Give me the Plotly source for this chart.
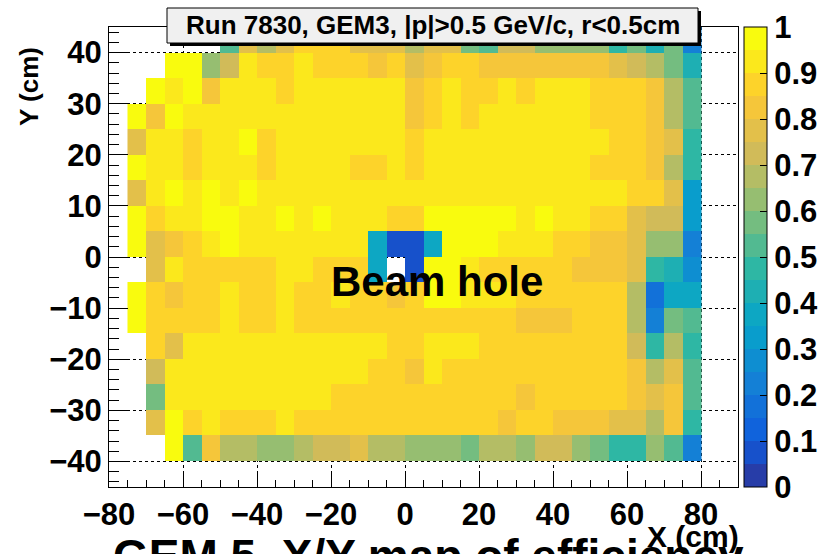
import plotly.graph_objects as go

# ---------------- data ----------------
x_centers = [-72.5, -67.5, -62.5, -57.5, -52.5, -47.5, -42.5, -37.5, -32.5, -27.5,
             -22.5, -17.5, -12.5, -7.5, -2.5, 2.5, 7.5, 12.5, 17.5, 22.5,
             27.5, 32.5, 37.5, 42.5, 47.5, 52.5, 57.5, 62.5, 67.5, 72.5, 77.5]
y_centers = [-37.5, -32.5, -27.5, -22.5, -17.5, -12.5, -7.5, -2.5, 2.5,
             7.5, 12.5, 17.5, 22.5, 27.5, 32.5, 37.5, 42.5]

N = None
eff_y_p42_5 = [N, N, N, N, N, 0.52, 0.75, 0.67, 0.75, 0.87, 0.85, 0.85, 0.75, 0.75, 0.75, 0.67,
               0.75, 0.75, 0.57, 0.52, 0.70, 0.72, 0.62, 0.62, 0.62, 0.62, 0.47, 0.57, 0.42, 0.55, 0.22]
eff_y_p37_5 = [N, N, 0.97, 0.97, 0.62, 0.74, 0.92, 0.87, 0.87, 0.92, 0.87, 0.87, 0.87, 0.82, 0.87, 0.78,
               0.82, 0.87, 0.85, 0.82, 0.82, 0.82, 0.82, 0.82, 0.82, 0.82, 0.78, 0.73, 0.68, 0.58, 0.42]
eff_y_p32_5 = [N, 0.97, 0.93, 0.97, 0.82, 0.93, 0.93, 0.93, 0.87, 0.93, 0.93, 0.93, 0.93, 0.93, 0.93, 0.84,
               0.87, 0.93, 0.87, 0.87, 0.93, 0.87, 0.92, 0.92, 0.92, 0.87, 0.87, 0.85, 0.80, 0.68, 0.50]
eff_y_p27_5 = [0.97, 0.82, 0.97, 0.93, 0.93, 0.93, 0.93, 0.93, 0.93, 0.93, 0.93, 0.93, 0.93, 0.93, 0.93, 0.82,
               0.87, 0.93, 0.87, 0.93, 0.93, 0.93, 0.93, 0.93, 0.93, 0.87, 0.87, 0.87, 0.80, 0.68, 0.50]
eff_y_p22_5 = [0.76, 0.93, 0.93, 0.87, 0.93, 0.93, 0.97, 0.87, 0.93, 0.93, 0.93, 0.93, 0.93, 0.93, 0.93, 0.87,
               0.93, 0.93, 0.93, 0.93, 0.93, 0.93, 0.93, 0.93, 0.93, 0.93, 0.87, 0.85, 0.80, 0.77, 0.45]
eff_y_p17_5 = [0.97, 0.93, 0.93, 0.87, 0.93, 0.93, 0.93, 0.87, 0.93, 0.93, 0.93, 0.93, 0.87, 0.87, 0.93, 0.87,
               0.93, 0.93, 0.93, 0.93, 0.93, 0.93, 0.93, 0.93, 0.93, 0.87, 0.87, 0.85, 0.80, 0.68, 0.45]
eff_y_p12_5 = [0.76, 0.93, 0.97, 0.93, 0.97, 0.93, 0.97, 0.93, 0.93, 0.93, 0.93, 0.93, 0.93, 0.93, 0.93, 0.93,
               0.93, 0.93, 0.93, 0.93, 0.93, 0.93, 0.93, 0.93, 0.93, 0.93, 0.93, 0.87, 0.85, 0.75, 0.33]
eff_y_p7_5 = [0.97, 0.87, 0.93, 0.93, 0.97, 0.97, 0.93, 0.93, 0.97, 0.93, 0.97, 0.93, 0.93, 0.93, 0.87, 0.87,
              0.97, 0.97, 0.97, 0.97, 0.97, 0.93, 0.97, 0.93, 0.93, 0.87, 0.85, 0.78, 0.73, 0.73, 0.33]
eff_y_p2_5 = [0.97, 0.77, 0.82, 0.87, 0.93, 0.97, 0.93, 0.93, 0.93, 0.93, 0.93, 0.93, 0.93, 0.37, 0.07, 0.07,
              0.37, 0.97, 0.97, 0.97, 0.93, 0.93, 0.93, 0.87, 0.87, 0.82, 0.80, 0.78, 0.62, 0.62, 0.20]
eff_y_m2_5 = [N, 0.77, 0.93, 0.87, 0.87, 0.87, 0.87, 0.87, 0.93, 0.93, 0.87, 0.87, 0.87, 0.35, N, 0.07,
              0.97, 0.97, 0.93, 0.87, 0.87, 0.87, 0.87, 0.87, 0.82, 0.80, 0.80, 0.75, 0.47, 0.42, 0.28]
eff_y_m7_5 = [0.97, 0.87, 0.82, 0.87, 0.87, 0.93, 0.87, 0.87, 0.93, 0.87, 0.87, 0.93, 0.87, 0.87, 0.80, 0.87,
              0.97, 0.97, 0.93, 0.93, 0.93, 0.87, 0.87, 0.87, 0.87, 0.85, 0.85, 0.68, 0.18, 0.38, 0.35]
eff_y_m12_5 = [0.97, 0.87, 0.87, 0.87, 0.87, 0.93, 0.87, 0.87, 0.93, 0.87, 0.87, 0.87, 0.87, 0.87, 0.87, 0.87,
               0.87, 0.87, 0.87, 0.87, 0.87, 0.84, 0.84, 0.80, 0.87, 0.87, 0.85, 0.68, 0.20, 0.58, 0.53]
eff_y_m17_5 = [N, 0.88, 0.76, 0.92, 0.92, 0.92, 0.92, 0.92, 0.92, 0.92, 0.92, 0.92, 0.92, 0.92, 0.87, 0.87,
               0.92, 0.92, 0.92, 0.87, 0.87, 0.87, 0.87, 0.87, 0.87, 0.87, 0.85, 0.73, 0.48, 0.68, 0.48]
eff_y_m22_5 = [N, 0.73, 0.92, 0.92, 0.92, 0.92, 0.92, 0.92, 0.92, 0.92, 0.92, 0.92, 0.92, 0.87, 0.87, 0.84,
               0.92, 0.87, 0.87, 0.87, 0.87, 0.87, 0.87, 0.87, 0.87, 0.87, 0.85, 0.83, 0.68, 0.75, 0.53]
eff_y_m27_5 = [N, 0.57, 0.92, 0.92, 0.92, 0.92, 0.92, 0.92, 0.92, 0.92, 0.92, 0.88, 0.87, 0.87, 0.87, 0.87,
               0.87, 0.87, 0.87, 0.87, 0.87, 0.83, 0.87, 0.87, 0.87, 0.87, 0.85, 0.80, 0.77, 0.80, 0.53]
eff_y_m32_5 = [N, 0.78, 0.97, 0.87, 0.93, 0.87, 0.87, 0.87, 0.92, 0.87, 0.87, 0.86, 0.86, 0.86, 0.86, 0.86,
               0.86, 0.86, 0.86, 0.86, 0.83, 0.85, 0.85, 0.83, 0.82, 0.80, 0.77, 0.75, 0.68, 0.82, 0.47]
eff_y_m37_5 = [N, N, 0.97, 0.52, 0.82, 0.68, 0.68, 0.62, 0.62, 0.68, 0.74, 0.70, 0.76, 0.68, 0.68, 0.62,
               0.62, 0.62, 0.58, 0.67, 0.67, 0.62, 0.70, 0.73, 0.62, 0.58, 0.48, 0.47, 0.60, 0.53, 0.22]

z_rows = [eff_y_m37_5, eff_y_m32_5, eff_y_m27_5, eff_y_m22_5, eff_y_m17_5, eff_y_m12_5,
          eff_y_m7_5, eff_y_m2_5, eff_y_p2_5, eff_y_p7_5, eff_y_p12_5, eff_y_p17_5,
          eff_y_p22_5, eff_y_p27_5, eff_y_p32_5, eff_y_p37_5, eff_y_p42_5]

cbar_ticks = [0, 0.1, 0.2, 0.3, 0.4, 0.5, 0.6, 0.7, 0.8, 0.9, 1]
cbar_labels = ["0", "0.1", "0.2", "0.3", "0.4", "0.5", "0.6", "0.7", "0.8", "0.9", "1"]

title_text = "Run 7830, GEM3, |p|&gt;0.5 GeV/c, r&lt;0.5cm"

# ---------------- ROOT kBird palette, 20 discrete contours ----------------
stops = [0.0, 0.125, 0.25, 0.375, 0.5, 0.625, 0.75, 0.875, 1.0]
red = [0.2082, 0.0592, 0.0780, 0.0232, 0.1802, 0.5301, 0.8186, 0.9956, 0.9764]
green = [0.1664, 0.3599, 0.5041, 0.6419, 0.7178, 0.7492, 0.7328, 0.7862, 0.9832]
blue = [0.5293, 0.8684, 0.8385, 0.7914, 0.6425, 0.4662, 0.3499, 0.1968, 0.0539]


def bird(p):
    p = min(max(p, 0.0), 1.0)
    for k in range(len(stops) - 1):
        if p <= stops[k + 1]:
            t = (p - stops[k]) / (stops[k + 1] - stops[k])
            r = red[k] + t * (red[k + 1] - red[k])
            g = green[k] + t * (green[k + 1] - green[k])
            b = blue[k] + t * (blue[k + 1] - blue[k])
            return "rgb(%d,%d,%d)" % (round(r * 255), round(g * 255), round(b * 255))
    return "rgb(249,251,14)"


ncont = 20
colorscale = []
for i in range(ncont):
    c = bird(int((i + 0.99) * 255 / ncont) / 254.0)
    colorscale.append([i / ncont, c])
    colorscale.append([(i + 1) / ncont, c])

FONT = "Liberation Sans, Arial, Helvetica, sans-serif"
TICKSIZE = 31

W, H = 823, 554
L, R, T, B = 109, 85, 27, 67
pw, ph = W - L - R, H - T - B


def px(xp):
    return (xp - L) / pw


def py(yp):
    return (H - B - yp) / ph


fig = go.Figure()
fig.add_trace(go.Heatmap(
    x=x_centers, y=y_centers, z=z_rows,
    zmin=0, zmax=1, colorscale=colorscale,
    hoverongaps=False,
    colorbar=dict(
        x=px(744), xanchor="left", xpad=0, ypad=0,
        y=0.5, yanchor="middle", len=1, lenmode="fraction",
        thickness=23, outlinecolor="black", outlinewidth=1,
        tickmode="array", tickvals=cbar_ticks, ticktext=cbar_labels,
        ticks="inside", ticklen=7, tickcolor="black", tickwidth=1,
        tickfont=dict(family=FONT, size=TICKSIZE, color="black", weight="bold"),
    ),
))

axis_common = dict(
    showline=True, linecolor="black", linewidth=1, mirror=True,
    showgrid=True, gridcolor="black", griddash="dot", gridwidth=1,
    ticks="inside", tickcolor="black", tickwidth=1,
    zeroline=False,
    tickfont=dict(family=FONT, size=TICKSIZE, color="black", weight="bold"),
)

fig.update_xaxes(range=[-80, 90], tick0=-80, dtick=20, ticklen=14,
                 minor=dict(dtick=5, tick0=-80, ticklen=7, ticks="inside", tickcolor="black", showgrid=False),
                 **axis_common)
fig.update_yaxes(range=[-45, 45], tick0=-40, dtick=10, ticklen=19,
                 minor=dict(dtick=2, tick0=-44, ticklen=10, ticks="inside", tickcolor="black", showgrid=False),
                 **axis_common)

# title box with shadow
fig.add_shape(type="rect", xref="paper", yref="paper",
              x0=px(170), x1=px(701), y0=py(46), y1=py(11),
              fillcolor="black", line=dict(width=0), layer="above")
fig.add_shape(type="rect", xref="paper", yref="paper",
              x0=px(167), x1=px(698), y0=py(43), y1=py(8),
              fillcolor="#f0f0f0", line=dict(color="black", width=1), layer="above")

fig.add_annotation(text=title_text, xref="paper", yref="paper",
                   x=px(433), y=py(25.5), xanchor="center", yanchor="middle",
                   showarrow=False,
                   font=dict(family=FONT, size=26, color="black", weight="bold"))

fig.add_annotation(text="Beam hole", xref="paper", yref="paper",
                   x=px(437), y=py(281), xanchor="center", yanchor="middle",
                   showarrow=False,
                   font=dict(family=FONT, size=42, color="black", weight="bold"))

fig.add_annotation(text="Y (cm)", xref="paper", yref="paper",
                   x=px(29), y=py(87), xanchor="center", yanchor="middle",
                   textangle=-90, showarrow=False,
                   font=dict(family=FONT, size=26, color="black", weight="bold"))

fig.add_annotation(text="GEM 5. X/Y map of efficiency", xref="paper", yref="paper",
                   x=px(428), y=py(528), xanchor="center", yanchor="top",
                   showarrow=False,
                   font=dict(family=FONT, size=46, color="black", weight="bold"))

fig.add_annotation(text="X (cm)", xref="paper", yref="paper",
                   x=px(693), y=py(536), xanchor="center", yanchor="middle",
                   showarrow=False,
                   font=dict(family=FONT, size=30, color="black", weight="bold"))

fig.update_layout(
    width=W, height=H,
    margin=dict(l=L, r=R, t=T, b=B, pad=0, autoexpand=False),
    paper_bgcolor="white", plot_bgcolor="white",
    showlegend=False,
)

fig.write_html("out.html")
